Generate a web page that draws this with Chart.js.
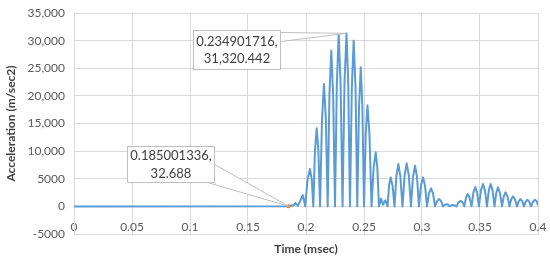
<!DOCTYPE html>
<html><head><meta charset="utf-8">
<script src="https://cdn.jsdelivr.net/npm/chart.js@4.4.0/dist/chart.umd.min.js"></script>
<style>html,body{margin:0;padding:0;background:#fff}canvas{display:block}</style>
</head><body>
<canvas id="c" width="550" height="260"></canvas>
<script>
const times = [
0, 0.185001336, 0.1880, 0.1890, 0.1910, 0.1930, 0.1955, 0.1972, 0.1985, 0.1993,
0.2013, 0.2034, 0.2050, 0.2063,
0.2077, 0.2092, 0.2107, 0.2121,
0.2138, 0.2155, 0.2171, 0.2187,
0.2202, 0.2218, 0.2234, 0.2250,
0.2266, 0.2282, 0.2298, 0.2315,
0.2332, 0.234901716, 0.2364, 0.2379,
0.2395, 0.2411, 0.2427, 0.2442,
0.2457, 0.2472, 0.2486, 0.2500,
0.2515, 0.2530, 0.2547, 0.2565,
0.2583, 0.2601, 0.2615, 0.2629,
0.2647, 0.2664, 0.2685, 0.2703,
0.2716, 0.2730, 0.2746, 0.2763,
0.2779, 0.2796, 0.2813, 0.2832,
0.2850, 0.2868, 0.2886, 0.2905,
0.2922, 0.2940, 0.2957, 0.2974,
0.2991, 0.3009, 0.3026, 0.3043,
0.3060, 0.3078, 0.3095, 0.3112,
0.3130, 0.3149, 0.3165, 0.3181,
0.3197, 0.3213, 0.3225, 0.3237,
0.3252, 0.3267, 0.3282, 0.3297,
0.3315, 0.3334, 0.3350, 0.3365,
0.3380, 0.3394, 0.3410, 0.3427,
0.3443, 0.3459, 0.3475, 0.3491,
0.3508, 0.3526, 0.3543, 0.3560,
0.3576, 0.3592, 0.3608, 0.3625,
0.3640, 0.3655, 0.3672, 0.3690,
0.3705, 0.3720, 0.3737, 0.3754,
0.3769, 0.3784, 0.3801, 0.3819,
0.3834, 0.3849, 0.3864, 0.3879,
0.3894, 0.3909, 0.3924, 0.3940,
0.3957, 0.3974, 0.3990, 0.4000];

const accel = [
0, 32.688, 200, 120, 600, 100, 1200, 2050, 900, 0,
4800, 6760, 4800, 0,
10000, 14130, 10000, 0,
15800, 22150, 15800, 0,
20200, 28190, 20200, 0,
22300, 31210, 22300, 0,
22400, 31320.442, 22400, 0,
21400, 30000, 21400, 0,
18000, 25180, 18000, 0,
13100, 18300, 13100, 0,
7000, 9780, 7000, 0,
1400, 300, 1100, 0,
3750, 5250, 3750, 0,
5500, 7660, 5500, 0,
5600, 7790, 5600, 0,
5300, 7360, 5300, 0,
3750, 5250, 3750, 0,
2350, 3260, 2350, 0,
950, 1320, 950, 0,
290, 400, 290, 50,
180, 250, 180, 0,
720, 1010, 720, 0,
1600, 2230, 1600, 0,
2500, 3500, 2500, 0,
2900, 4040, 2900, 0,
2900, 4040, 2900, 0,
2450, 3440, 2450, 0,
1800, 2540, 1800, 0,
1300, 1800, 1300, 0,
950, 1320, 950, 0,
870, 1210, 870, 0,
870, 1210, 870, 150];

const xTicks = [0, 0.05, 0.1, 0.15, 0.2, 0.25, 0.3, 0.35, 0.4];
const xTickLabels = ['0', '0.05', '0.1', '0.15', '0.2', '0.25', '0.3', '0.35', '0.4'];
const yTicks = [-5000, 0, 5000, 10000, 15000, 20000, 25000, 30000, 35000];
const yTickLabels = ['-5000', '0', '5000', '10,000', '15,000', '20,000', '25,000', '30,000', '35,000'];
const calloutTimes = [0.185001336, 0.234901716];
const markerTimes = [0.185001336];

const FONT = 'Lato, "Open Sans", sans-serif';
const calloutIdx = calloutTimes.map(t => times.indexOf(t));
const markerIdx = markerTimes.map(t => times.indexOf(t));

// styling of callouts (relative to the labelled point)
const calloutStyle = [
  {dx: -162, dy: -60, w: 87, h: 36, base: [[87, 18], [80, 36]]},
  {dx: -153.5, dy: -3, w: 87, h: 39, base: [[87, 2], [87, 11]]}
];

const calloutPlugin = {
  id: 'callouts',
  afterDatasetsDraw(chart) {
    const ctx = chart.ctx;
    const meta = chart.getDatasetMeta(0);
    calloutIdx.forEach((idx, k) => {
      const el = meta.data[idx];
      const s = calloutStyle[k];
      const px = el.x, py = el.y;
      const bx = Math.round(px + s.dx) + 0.5, by = Math.round(py + s.dy) + 0.5;
      ctx.save();
      ctx.beginPath();
      ctx.moveTo(bx + s.base[0][0], by + s.base[0][1]);
      ctx.lineTo(px, py);
      ctx.lineTo(bx + s.base[1][0], by + s.base[1][1]);
      ctx.closePath();
      ctx.fillStyle = '#ffffff';
      ctx.fill();
      ctx.beginPath();
      ctx.moveTo(bx + s.base[0][0], by + s.base[0][1]);
      ctx.lineTo(px, py);
      ctx.lineTo(bx + s.base[1][0], by + s.base[1][1]);
      ctx.strokeStyle = '#bfbfbf';
      ctx.lineWidth = 1;
      ctx.stroke();
      ctx.fillStyle = '#ffffff';
      ctx.fillRect(bx, by, s.w, s.h);
      ctx.strokeStyle = '#bfbfbf';
      ctx.strokeRect(bx, by, s.w, s.h);
      const l1 = String(times[idx]) + ',';
      const l2 = accel[idx].toLocaleString('en-US', {minimumFractionDigits: 3, maximumFractionDigits: 3});
      ctx.fillStyle = '#404040';
      ctx.font = '13px ' + FONT;
      ctx.textAlign = 'center';
      ctx.textBaseline = 'middle';
      ctx.fillText(l1, bx + s.w / 2, by + s.h / 2 - 8.5);
      ctx.fillText(l2, bx + s.w / 2, by + s.h / 2 + 9);
      ctx.restore();
    });
  }
};

new Chart(document.getElementById('c'), {
  type: 'line',
  data: {
    datasets: [{
      data: times.map((t, i) => ({x: t, y: accel[i]})),
      borderColor: '#5B9BD5',
      borderWidth: 2,
      tension: 0,
      borderJoinStyle: 'round',
      pointRadius: times.map((t, i) => markerIdx.includes(i) ? 2 : 0),
      pointBackgroundColor: '#ED7D31',
      pointBorderWidth: 0,
      pointHoverRadius: 0
    }]
  },
  options: {
    responsive: false,
    animation: false,
    devicePixelRatio: 1,
    layout: {padding: {top: 13, right: 12, left: 0, bottom: 0}},
    plugins: {legend: {display: false}, tooltip: {enabled: false}},
    scales: {
      x: {
        type: 'linear',
        min: 0, max: 0.4,
        afterBuildTicks: s => { s.ticks = xTicks.map(v => ({value: v})); },
        afterFit: s => { s.height = 26; s.paddingLeft = 0; s.paddingRight = 0; },
        grid: {color: '#d9d9d9', drawTicks: false},
        border: {color: '#d9d9d9'},
        ticks: {
          mirror: true,
          padding: 0,
          maxRotation: 0,
          autoSkip: false,
          color: '#595959',
          font: {family: FONT, size: 12},
          callback: v => xTickLabels[xTicks.indexOf(v)]
        },
        title: {display: true, text: 'Time (msec)', color: '#404040', font: {family: FONT, size: 12, weight: 'bold'}, padding: {top: 4, bottom: 4}}
      },
      y: {
        min: -5000, max: 35000,
        afterBuildTicks: s => { s.ticks = yTicks.map(v => ({value: v})); },
        afterFit: s => { s.width = 74; s.paddingTop = 0; s.paddingBottom = 0; },
        grid: {color: '#d9d9d9', drawTicks: false},
        border: {color: '#d9d9d9'},
        ticks: {
          padding: 9,
          color: '#595959',
          font: {family: FONT, size: 12},
          callback: v => yTickLabels[yTicks.indexOf(v)]
        },
        title: {display: true, text: 'Acceleration (m/sec2)', color: '#404040', font: {family: FONT, size: 12, weight: 'bold'}, padding: {top: 4, bottom: 4}}
      }
    }
  },
  plugins: [calloutPlugin]
});
</script>
</body></html>
